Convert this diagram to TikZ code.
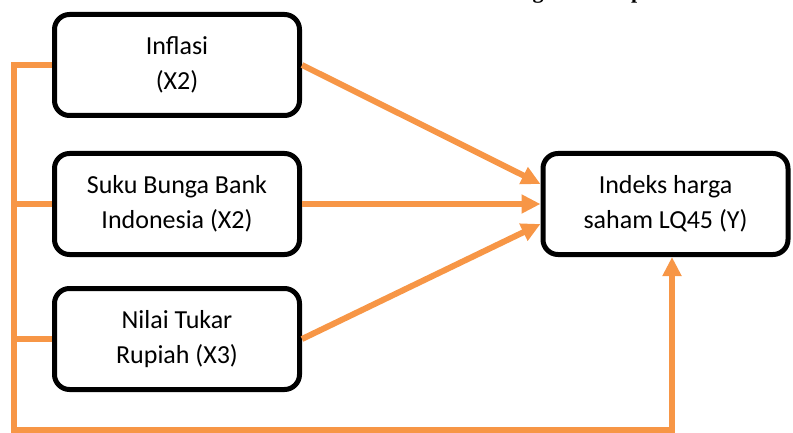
\documentclass[tikz,border=0pt]{standalone}
\usepackage{fontspec}
\setmainfont{Carlito}
\newfontfamily\titlefont{Liberation Serif}
\usepackage{tikz}
\usetikzlibrary{arrows.meta}
\definecolor{linkorange}{RGB}{247,150,70}
\tikzset{
  varbox/.style={draw=black, line width=5pt, rounded corners=15pt, fill=white,
    minimum width=245pt, minimum height=101pt, align=center,
    font={\fontsize{26}{35}\selectfont}},
  link/.style={draw=linkorange, line width=6pt},
  tip/.style={-{Triangle[length=19pt,width=18pt]}}
}

\begin{document}
\begin{tikzpicture}[x=1pt,y=1pt]
\useasboundingbox (0,0) rectangle (793,432);
% cut-off heading above the figure
\node[anchor=base west, inner sep=0pt, font={\titlefont\bfseries\fontsize{22}{26}\selectfont}]
  (title) at (472.6,433) {Kerangka Konsep};
% variables
\node[varbox] (inf) at (177,367) {Inflasi\\(X2)};
\node[varbox] (suku) at (177,228) {Suku Bunga Bank\\Indonesia (X2)};
\node[varbox] (kurs) at (177,93) {Nilai Tukar\\Rupiah (X3)};
\node[varbox] (lq) at (665.5,228) {Indeks harga\\saham LQ45 (Y)};
\coordinate (bl) at (13.5,2);
\coordinate (br) at (672,2);
% partial effects
\draw[link,tip] (inf.east) -- ([yshift=20pt]lq.west);
\draw[link,tip] (suku.east) -- (lq.west);
\draw[link,tip] (kurs.east) -- ([yshift=-20pt]lq.west);
% joint effect
\draw[link,tip] (inf.west) -| (bl) -- (br) -- (br |- lq.south);
\draw[link] (suku.west) -- (suku.west -| bl);
\draw[link] (kurs.west) -- (kurs.west -| bl);
\end{tikzpicture}
\end{document}
